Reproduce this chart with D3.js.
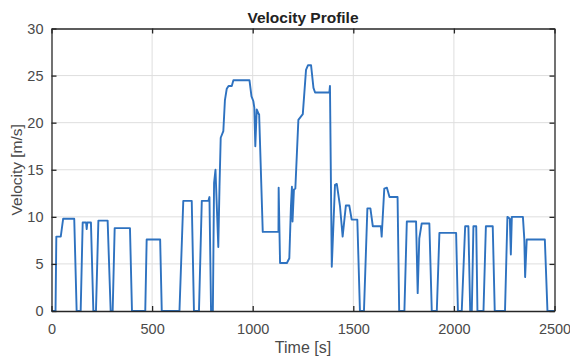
<!DOCTYPE html>
<html>
<head>
<meta charset="utf-8">
<script src="https://cdn.jsdelivr.net/npm/d3@7"></script>
<style>
  html, body { margin: 0; padding: 0; background: #fff; }
  svg { display: block; font-family: "Liberation Sans", Arial, Helvetica, sans-serif; }
</style>
</head>
<body>
<svg id="chart" width="570" height="356"></svg>
<script>
// Drive-cycle samples: time [s] and velocity [m/s]
const timeS = [
  0, 20, 24, 46, 58, 113, 125, 145, 155, 172, 175, 178, 196, 208, 221, 233, 279, 294,
  304, 314, 390, 400, 466, 473, 540, 548, 636, 655, 697, 708, 733, 747, 780, 785, 793,
  802, 808, 815, 829, 835, 841, 854, 862, 871, 880, 896, 904, 984, 994, 1003, 1008,
  1013, 1020, 1030, 1032, 1050, 1128, 1129, 1136, 1170, 1182, 1190, 1195, 1198, 1205,
  1212, 1227, 1249, 1265, 1275, 1290, 1302, 1310, 1381, 1384, 1393, 1409, 1418, 1434,
  1447, 1463, 1480, 1492, 1520, 1533, 1553, 1570, 1585, 1597, 1637, 1641, 1654, 1667,
  1680, 1720, 1728, 1754, 1766, 1812, 1820, 1828, 1840, 1878, 1890, 1915, 1928, 2011,
  2020, 2039, 2056, 2072, 2081, 2089, 2097, 2111, 2117, 2147, 2159, 2193, 2203, 2254,
  2266, 2278, 2283, 2288, 2343, 2350, 2354, 2362, 2452, 2465, 2500
];
const velocityMS = [
  0, 0, 7.9, 7.9, 9.8, 9.8, 0, 0, 9.4, 9.4, 8.7, 9.4, 9.4, 0, 0, 9.6, 9.6, 0,
  0, 8.8, 8.8, 0, 0, 7.6, 7.6, 0, 0, 11.7, 11.7, 0, 0, 11.7, 11.7, 12.1, 0,
  0, 13.6, 15.0, 6.8, 13.2, 18.4, 19.1, 22.4, 23.6, 23.9, 23.9, 24.5, 24.5, 22.8, 22.3, 21.6,
  17.5, 21.4, 20.9, 20.9, 8.4, 8.4, 13.1, 5.1, 5.1, 5.6, 11.1, 13.2, 9.5, 12.9,
  13.0, 20.3, 20.9, 25.6, 26.1, 26.1, 23.7, 23.2, 23.2, 23.9, 4.7, 13.4, 13.5, 11.1,
  7.9, 11.2, 11.2, 9.7, 9.7, 0, 0, 10.9, 10.9, 9.0, 9.0, 7.9, 13.0, 13.1,
  12.1, 12.1, 0, 0, 9.5, 9.5, 1.9, 7.7, 9.3, 9.3, 0, 0, 8.3, 8.3,
  0, 0, 9.0, 9.0, 0, 0, 9.0, 9.0, 0, 0, 9.0, 9.0, 0, 0,
  10.0, 9.8, 6.0, 10.0, 10.0, 7.6, 3.6, 7.6, 7.6, 0, 0
];
const xTicks = [0, 500, 1000, 1500, 2000, 2500];
const yTicks = [0, 5, 10, 15, 20, 25, 30];
const titleText = "Velocity Profile";
const xLabel = "Time [s]";
const yLabel = "Velocity [m/s]";

const svg = d3.select("#chart");
const margin = { left: 51.5, right: 15.5, top: 28.5, bottom: 45 };
const W = 570, H = 356;
const x = d3.scaleLinear().domain([0, 2500]).range([margin.left, W - margin.right]);
const y = d3.scaleLinear().domain([0, 30]).range([H - margin.bottom, margin.top]);

const axisColor = "#262626";
const textColor = "#4a4a4a";

// grid
const grid = svg.append("g");
grid.selectAll(".gx").data(xTicks.slice(1, -1)).join("line")
  .attr("x1", d => x(d)).attr("x2", d => x(d))
  .attr("y1", y(0)).attr("y2", y(30))
  .attr("stroke", "#dedede").attr("stroke-width", 1);
grid.selectAll(".gy").data(yTicks.slice(1, -1)).join("line")
  .attr("x1", x(0)).attr("x2", x(2500))
  .attr("y1", d => y(d)).attr("y2", d => y(d))
  .attr("stroke", "#dedede").attr("stroke-width", 1);

// velocity trace
const pts = timeS.map((t, i) => [t, velocityMS[i]]);
svg.append("path")
  .datum(pts)
  .attr("fill", "none")
  .attr("stroke", "#2e72c0")
  .attr("stroke-width", 1.9)
  .attr("stroke-linejoin", "round")
  .attr("d", d3.line().x(d => x(d[0])).y(d => y(d[1])));

// axes with inward ticks on all four sides
function styleAxis(g) {
  g.select(".domain").attr("stroke", axisColor).attr("stroke-width", 1.3);
  g.selectAll(".tick line").attr("stroke", axisColor).attr("stroke-width", 1.3);
  g.selectAll(".tick text").attr("fill", textColor).style("font-size", "14.5px");
}
svg.append("g").attr("transform", `translate(0,${y(0)})`)
  .call(d3.axisBottom(x).tickValues(xTicks).tickSizeInner(-5).tickSizeOuter(0).tickPadding(13).tickFormat(d3.format("d")))
  .call(styleAxis);
svg.append("g").attr("transform", `translate(0,${y(30)})`)
  .call(d3.axisTop(x).tickValues(xTicks).tickSizeInner(-5).tickSizeOuter(0).tickFormat(""))
  .call(styleAxis);
svg.append("g").attr("transform", `translate(${x(0)},0)`)
  .call(d3.axisLeft(y).tickValues(yTicks).tickSizeInner(-5).tickSizeOuter(0).tickPadding(8))
  .call(styleAxis);
svg.append("g").attr("transform", `translate(${x(2500)},0)`)
  .call(d3.axisRight(y).tickValues(yTicks).tickSizeInner(-5).tickSizeOuter(0).tickFormat(""))
  .call(styleAxis);

// titles
svg.append("text").attr("x", (x(0) + x(2500)) / 2).attr("y", 22.5)
  .attr("text-anchor", "middle").attr("font-weight", "bold").attr("font-size", 15.5)
  .attr("fill", "#222").text(titleText);
svg.append("text").attr("x", (x(0) + x(2500)) / 2).attr("y", 353)
  .attr("text-anchor", "middle").attr("font-size", 16).attr("fill", textColor).text(xLabel);
svg.append("text")
  .attr("transform", `translate(22,${(y(0) + y(30)) / 2}) rotate(-90)`)
  .attr("text-anchor", "middle").attr("font-size", 15.5).attr("fill", textColor).text(yLabel);
</script>
</body>
</html>
